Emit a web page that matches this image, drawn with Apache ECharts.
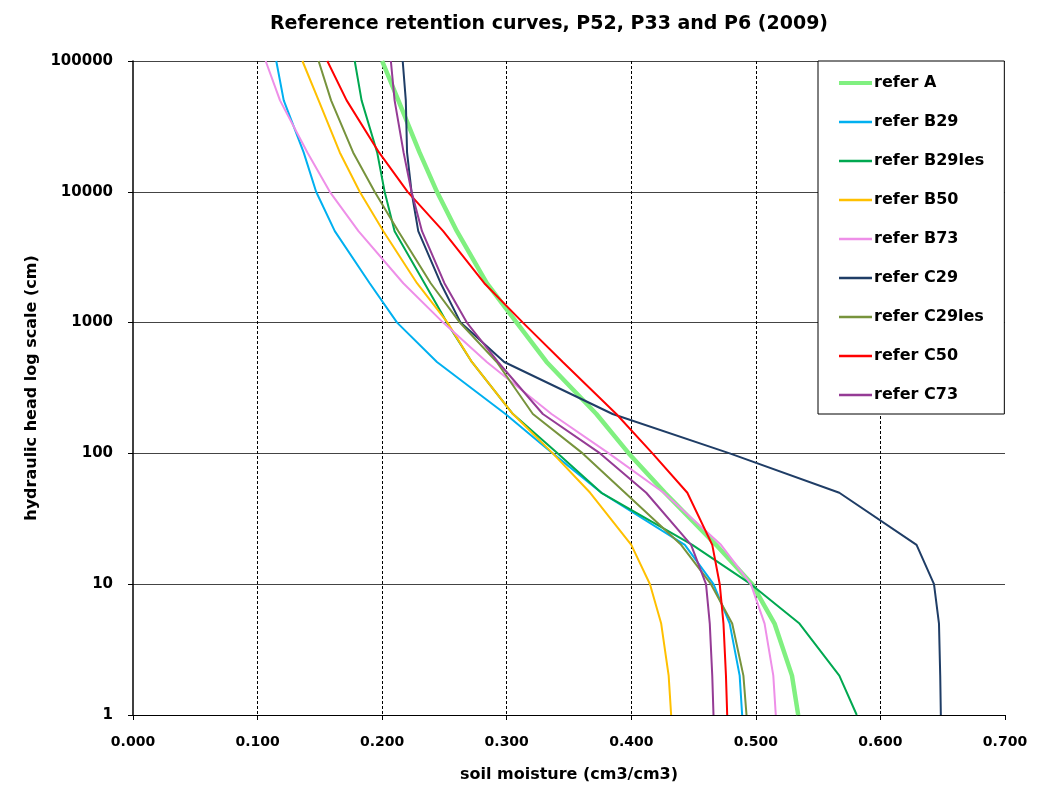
<!DOCTYPE html>
<html>
<head>
<meta charset="utf-8">
<title>Reference retention curves</title>
<script src="https://cdn.jsdelivr.net/npm/echarts@6/dist/echarts.min.js"></script>
<style>
  html, body { margin: 0; padding: 0; background: #fff; }
  #vis { width: 1047px; height: 788px; }
</style>
</head>
<body>
<div id="vis"></div>
<script>
// hydraulic head (cm), shared by all curves
const heads = [1, 2, 5, 10, 20, 50, 100, 200, 500, 1000, 2000, 5000, 10000, 20000, 50000, 100000];

// soil moisture (cm3/cm3) per curve, same order as heads
const referA      = [0.534, 0.529, 0.515, 0.497, 0.468, 0.427, 0.398, 0.372, 0.332, 0.308, 0.284, 0.260, 0.244, 0.230, 0.213, 0.200];
const referB29    = [0.489, 0.487, 0.479, 0.466, 0.443, 0.376, 0.337, 0.299, 0.244, 0.212, 0.190, 0.162, 0.147, 0.137, 0.121, 0.115];
const referB29les = [0.581, 0.567, 0.535, 0.496, 0.449, 0.376, 0.341, 0.305, 0.272, 0.252, 0.234, 0.210, 0.202, 0.196, 0.1835, 0.178];
const referB50    = [0.432, 0.430, 0.424, 0.415, 0.400, 0.367, 0.337, 0.305, 0.272, 0.2525, 0.228, 0.201, 0.182, 0.166, 0.149, 0.136];
const referB73    = [0.516, 0.514, 0.507, 0.496, 0.472, 0.426, 0.382, 0.336, 0.284, 0.249, 0.217, 0.181, 0.158, 0.140, 0.118, 0.1065];
const referC29    = [0.6485, 0.648, 0.647, 0.643, 0.629, 0.567, 0.479, 0.385, 0.298, 0.263, 0.247, 0.229, 0.2236, 0.220, 0.219, 0.2165];
const referC29les = [0.4925, 0.490, 0.481, 0.464, 0.440, 0.395, 0.361, 0.321, 0.292, 0.2624, 0.239, 0.213, 0.194, 0.1767, 0.159, 0.149];
const referC50    = [0.477, 0.476, 0.474, 0.471, 0.465, 0.445, 0.417, 0.388, 0.345, 0.313, 0.282, 0.249, 0.2205, 0.1975, 0.1715, 0.156];
const referC73    = [0.466, 0.465, 0.463, 0.460, 0.448, 0.412, 0.375, 0.329, 0.293, 0.268, 0.250, 0.232, 0.2236, 0.2172, 0.210, 0.207];

const curves = [
  { name: 'refer A',      values: referA,      color: '#80f080', width: 4.5 },
  { name: 'refer B29',    values: referB29,    color: '#00b0f0', width: 2 },
  { name: 'refer B29les', values: referB29les, color: '#00a850', width: 2 },
  { name: 'refer B50',    values: referB50,    color: '#ffc000', width: 2 },
  { name: 'refer B73',    values: referB73,    color: '#ee8fe8', width: 2 },
  { name: 'refer C29',    values: referC29,    color: '#1f3d66', width: 2 },
  { name: 'refer C29les', values: referC29les, color: '#77933c', width: 2 },
  { name: 'refer C50',    values: referC50,    color: '#ff0000', width: 2 },
  { name: 'refer C73',    values: referC73,    color: '#953b95', width: 2 }
];

const font = "'DejaVu Sans', 'Liberation Sans', sans-serif";

// legend swatch: a flat bar centred in a 33x14 box
function swatch(w) {
  const a = 7 - w / 2, b = 7 + w / 2;
  return `path://M0,0L0,14L0,0ZM0,${a}L33,${a}L33,${b}L0,${b}Z`;
}

const chart = echarts.init(document.getElementById('vis'), null, { renderer: 'canvas' });

const options = {
  animation: false,
  title: {
    text: 'Reference retention curves, P52, P33 and P6 (2009)',
    left: 544,
    textAlign: 'center',
    top: 10,
    textStyle: { fontFamily: font, fontSize: 19, fontWeight: 'bold', color: '#000' }
  },
  grid: { left: 133, right: 42, top: 61, bottom: 73, containLabel: false },
  legend: {
    orient: 'vertical',
    left: 818,
    top: 61,
    data: curves.map(c => ({ name: c.name, icon: swatch(c.width === 2 ? 2.5 : 4) })),
    itemWidth: 33,
    itemHeight: 14,
    itemGap: 23,
    padding: [14, 20, 11, 21],
    borderColor: '#000',
    borderWidth: 1,
    backgroundColor: '#fff',
    textStyle: { fontFamily: font, fontSize: 16, fontWeight: 'bold', color: '#000', padding: [0, 0, 0, -3] }
  },
  xAxis: {
    type: 'value',
    min: 0,
    max: 0.7,
    interval: 0.1,
    name: 'soil moisture (cm3/cm3)',
    nameLocation: 'middle',
    nameGap: 52,
    nameTextStyle: { fontFamily: font, fontSize: 16, fontWeight: 'bold', color: '#000' },
    axisLine: { lineStyle: { color: '#000', width: 1 } },
    axisTick: { show: true, length: 5, lineStyle: { color: '#000' } },
    axisLabel: {
      fontFamily: font, fontSize: 14, fontWeight: 'bold', color: '#000', margin: 20,
      formatter: v => v.toFixed(3)
    },
    splitLine: {
      show: true,
      showMinLine: false,
      showMaxLine: false,
      lineStyle: { color: '#000', width: 1, type: [3, 2] }
    }
  },
  yAxis: {
    type: 'log',
    logBase: 10,
    min: 1,
    max: 100000,
    name: 'hydraulic head log scale (cm)',
    nameLocation: 'middle',
    nameGap: 90,
    nameTextStyle: { fontFamily: font, fontSize: 16, fontWeight: 'bold', color: '#000' },
    axisLine: { show: true, lineStyle: { color: '#000', width: 1.5 } },
    axisTick: { show: true, length: 5, lineStyle: { color: '#000' } },
    axisLabel: {
      fontFamily: font, fontSize: 15, fontWeight: 'bold', color: '#000', margin: 20,
      formatter: v => String(Math.round(v))
    },
    splitLine: { show: true, lineStyle: { color: '#444', width: 1.2 } }
  },
  series: curves.map(c => ({
    name: c.name,
    type: 'line',
    symbol: 'none',
    color: c.color,
    lineStyle: { color: c.color, width: c.width },
    data: c.values.map((v, i) => [v, heads[i]])
  }))
};

chart.setOption(options);
</script>
</body>
</html>
